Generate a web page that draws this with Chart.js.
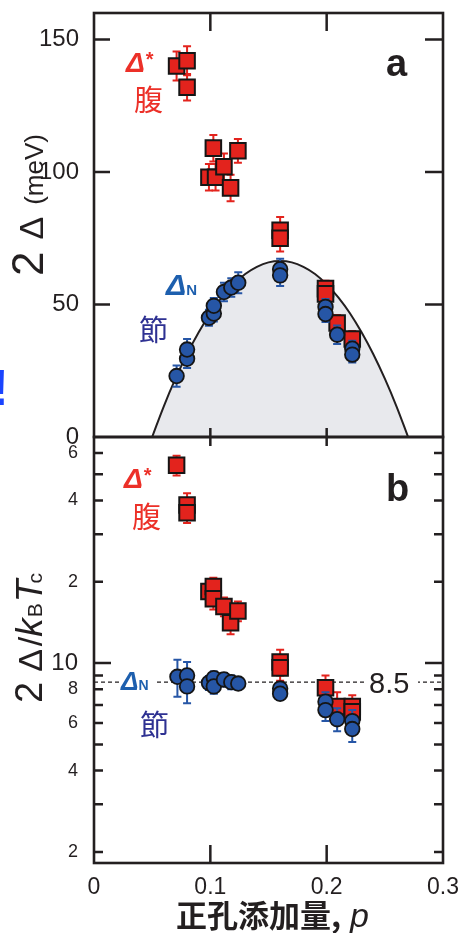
<!DOCTYPE html>
<html>
<head>
<meta charset="utf-8">
<script src="https://cdn.jsdelivr.net/npm/chart.js@4.4.1/dist/chart.umd.min.js"></script>
<style>
  html, body { margin: 0; padding: 0; background: #fff; }
  #wrap { position: relative; width: 464px; height: 933px; overflow: hidden; }
  canvas { position: absolute; left: 0; top: 0; }
</style>
</head>
<body>
<div id="wrap">
  <canvas id="gapChart" width="464" height="933"></canvas>
  <canvas id="ratioChart" width="464" height="933"></canvas>
</div>
<script>
// ---- panel a : gap (meV) vs hole doping p ----
const pAnti = [0.071, 0.080, 0.080, 0.0988, 0.1026, 0.1045, 0.1117, 0.1174, 0.1237, 0.160, 0.160, 0.199, 0.199, 0.209, 0.222];
const gapAnti = [140, 142, 132, 98, 109, 98, 102, 94, 108, 78, 75, 56, 54, 43, 37];
const gapAntiErr = [5.5, 5.5, 5, 5, 5, 5, 5, 5, 4.5, 5, 5, 3, 3, 3, 3];

const pNode = [0.071, 0.080, 0.080, 0.0988, 0.103, 0.103, 0.1117, 0.118, 0.124, 0.160, 0.160, 0.199, 0.199, 0.209, 0.222, 0.222];
const gapNode = [23, 29.5, 33, 45, 46.6, 49.5, 54.7, 56.4, 58.2, 63.3, 61, 49.1, 46.4, 38.6, 33.3, 31.1];
const gapNodeErr = [4, 3.5, 4, 3, 3, 3, 3.5, 3.5, 4, 4, 4, 3, 3, 3.5, 3, 3];

// dome curve
const domeP = [0.05, 0.06, 0.07, 0.08, 0.09, 0.10, 0.11, 0.12, 0.13, 0.14, 0.15, 0.16, 0.17, 0.18, 0.19, 0.20, 0.21, 0.22, 0.23, 0.24, 0.25, 0.26, 0.27];
const domeGap = [0, 11.6, 22.0, 31.3, 39.5, 46.7, 52.7, 57.6, 61.5, 64.2, 65.9, 66.4, 65.9, 64.2, 61.5, 57.6, 52.7, 46.7, 39.5, 31.3, 22.0, 11.6, 0];

// ---- panel b : 2Δ/kBTc ----
const pAntiR = [0.071, 0.080, 0.080, 0.0988, 0.1026, 0.1026, 0.1117, 0.1174, 0.1237, 0.160, 0.160, 0.199, 0.209, 0.222, 0.222];
const ratioAnti = [54, 38.5, 36, 18.4, 19.2, 17.3, 16.2, 14.1, 15.6, 10.1, 9.6, 8.1, 6.9, 6.9, 6.6];
const ratioAntiErr = [4.5, 4, 3, 1.5, 1.5, 1.5, 1.3, 1.3, 1.3, 1.1, 1, 0.9, 0.9, 0.7, 0.7];

const pNodeR = [0.0717, 0.080, 0.080, 0.0988, 0.103, 0.103, 0.1117, 0.118, 0.124, 0.160, 0.160, 0.199, 0.199, 0.209, 0.222, 0.222];
const ratioNode = [8.9, 9.0, 8.2, 8.45, 8.8, 8.2, 8.7, 8.5, 8.4, 8.05, 7.7, 7.2, 6.7, 6.2, 6.1, 5.7];
const ratioNodeErr = [1.4, 1.1, 1.1, 0.5, 0.5, 0.5, 0.5, 0.5, 0.4, 0.4, 0.4, 0.6, 0.6, 0.6, 0.6, 0.6];
const ratioRef = 8.5;

// ticks
const pTicks = [0, 0.1, 0.2, 0.3];
const gapTicks = [0, 50, 100, 150];
const ratioTicks = [2, 3, 4, 5, 6, 7, 8, 9, 10, 20, 30, 40, 50, 60];
const ratioLabels = { 2: '2', 4: '4', 6: '6', 8: '8', 10: '10', 20: '2', 40: '4', 60: '6' };

const SANS = '"Liberation Sans", Arial, Helvetica, sans-serif';
const CJK = '"Noto Sans CJK JP", "Noto Sans CJK SC", sans-serif';
const INK = '#231f20';
const RED = '#e3231d';
const RED_TXT = '#ec3028';
const BLUE = '#2656a6';
const BLUE_TXT = '#1d5fae';
const NAVY = '#2e3192';

const pts = (xs, ys) => xs.map((x, i) => ({ x: x, y: ys[i] }));

// error bars drawn under each dataset through its y scale
const errorBars = {
  id: 'errorBars',
  beforeDatasetDraw(chart, args) {
    const ds = chart.data.datasets[args.index];
    if (!ds.errors) return;
    const ctx = chart.ctx, ys = chart.scales.y;
    ctx.save();
    ctx.strokeStyle = ds.errorColor;
    ctx.lineWidth = 2;
    args.meta.data.forEach((pt, i) => {
      const v = ds.data[i].y, e = ds.errors[i];
      const y1 = ys.getPixelForValue(v + e), y2 = ys.getPixelForValue(v - e);
      ctx.beginPath();
      ctx.moveTo(pt.x, y1); ctx.lineTo(pt.x, y2);
      ctx.moveTo(pt.x - 4, y1); ctx.lineTo(pt.x + 4, y1);
      ctx.moveTo(pt.x - 4, y2); ctx.lineTo(pt.x + 4, y2);
      ctx.stroke();
    });
    ctx.restore();
  }
};

// box + inward tick marks
function framePlugin(spec) {
  return {
    id: 'frame',
    afterDraw(chart) {
      const ctx = chart.ctx, a = chart.chartArea;
      const xs = chart.scales.x, ys = chart.scales.y;
      ctx.save();
      ctx.strokeStyle = INK;
      ctx.lineWidth = 2.5;
      ctx.beginPath();
      spec.yTicks.forEach(v => {
        const y = ys.getPixelForValue(v), len = spec.yLen(v);
        if (spec.left) { ctx.moveTo(a.left, y); ctx.lineTo(a.left + len, y); }
        if (spec.right(v)) { ctx.moveTo(a.right, y); ctx.lineTo(a.right - spec.rightLen(v), y); }
      });
      spec.xTicks.forEach(v => {
        const x = xs.getPixelForValue(v);
        ctx.moveTo(x, a.top); ctx.lineTo(x, a.top + spec.topLen);
        ctx.moveTo(x, a.bottom); ctx.lineTo(x, a.bottom - spec.bottomLen);
      });
      ctx.stroke();
      ctx.lineWidth = 2.6;
      ctx.strokeRect(a.left, a.top, a.right - a.left, a.bottom - a.top);
      ctx.restore();
      if (spec.text) spec.text(chart, ctx, a);
    }
  };
}

function runs(ctx, x, y, parts) {
  let cx = x;
  parts.forEach(p => {
    ctx.font = p.font;
    ctx.fillStyle = p.color || INK;
    cx += p.dx || 0;
    ctx.fillText(p.text, cx, y + (p.dy || 0));
    cx += ctx.measureText(p.text).width + (p.gap || 0);
  });
}

function fixWidth(w) {
  return s => { s.width = w; s.paddingTop = 0; s.paddingBottom = 0; };
}

// ---------------- panel a ----------------
new Chart(document.getElementById('gapChart'), {
  type: 'scatter',
  data: {
    datasets: [
      {
        type: 'line', data: pts(domeP, domeGap), borderColor: INK, borderWidth: 2,
        backgroundColor: '#e8e9ed', fill: 'origin', pointRadius: 0, tension: 0.4, order: 3
      },
      {
        data: pts(pAnti, gapAnti), errors: gapAntiErr, errorColor: RED,
        pointStyle: 'rect', pointRadius: 11, backgroundColor: RED, borderColor: '#151515', borderWidth: 2, order: 2
      },
      {
        data: pts(pNode, gapNode), errors: gapNodeErr, errorColor: BLUE,
        pointStyle: 'circle', pointRadius: 7.3, backgroundColor: BLUE, borderColor: '#151515', borderWidth: 1.8, order: 1
      }
    ]
  },
  options: {
    responsive: false,
    animation: false,
    layout: { padding: { top: 11, right: 21, bottom: 496, left: 0 } },
    plugins: { legend: { display: false }, tooltip: { enabled: false } },
    scales: {
      x: { type: 'linear', min: 0, max: 0.3, display: false },
      y: {
        min: 0, max: 160,
        afterBuildTicks: s => { s.ticks = gapTicks.map(v => ({ value: v })); },
        afterFit: fixWidth(94),
        grid: { display: false }, border: { display: false },
        ticks: { padding: 7, color: INK, font: { family: SANS, size: 24 } }
      }
    }
  },
  plugins: [errorBars, framePlugin({
    yTicks: [50, 100, 150], left: true, yLen: () => 16,
    right: () => true, rightLen: () => 18,
    xTicks: [0.1, 0.2], topLen: 18, bottomLen: 9,
    text(chart, ctx, a) {
      ctx.save();
      ctx.textBaseline = 'alphabetic';
      // y title
      ctx.save();
      ctx.translate(43, 276);
      ctx.rotate(-Math.PI / 2);
      runs(ctx, 0, 0, [
        { text: '2', font: '44px ' + SANS, gap: 12 },
        { text: 'Δ', font: '34px ' + SANS, gap: 12 },
        { text: '(meV)', font: '26px ' + SANS }
      ]);
      ctx.restore();
      runs(ctx, 126, 72, [
        { text: 'Δ', font: 'italic bold 28px ' + SANS, color: RED_TXT, gap: 1 },
        { text: '*', font: 'bold 20px ' + SANS, color: RED_TXT, dy: -6 }
      ]);
      runs(ctx, 134, 111, [{ text: '腹', font: '29px ' + CJK, color: RED_TXT }]);
      runs(ctx, 166, 295, [
        { text: 'Δ', font: 'italic bold 30px ' + SANS, color: BLUE_TXT, gap: 0 },
        { text: 'N', font: 'bold 15px ' + SANS, color: BLUE_TXT }
      ]);
      runs(ctx, 139, 341, [{ text: '節', font: '29px ' + CJK, color: NAVY }]);
      runs(ctx, 386, 76, [{ text: 'a', font: 'bold 38px ' + SANS }]);
      runs(ctx, -8, 405, [{ text: '!', font: 'bold 50px ' + SANS, color: '#1a44ff' }]);
      ctx.restore();
    }
  })]
});

// ---------------- panel b ----------------
new Chart(document.getElementById('ratioChart'), {
  type: 'scatter',
  data: {
    datasets: [
      {
        type: 'line', data: [{ x: 0, y: ratioRef }, { x: 0.3, y: ratioRef }], borderColor: INK, borderWidth: 1.4,
        borderDash: [4, 3], pointRadius: 0, fill: false, order: 3
      },
      {
        data: pts(pAntiR, ratioAnti), errors: ratioAntiErr, errorColor: RED,
        pointStyle: 'rect', pointRadius: 11, backgroundColor: RED, borderColor: '#151515', borderWidth: 2, order: 2
      },
      {
        data: pts(pNodeR, ratioNode), errors: ratioNodeErr, errorColor: BLUE,
        pointStyle: 'circle', pointRadius: 7.3, backgroundColor: BLUE, borderColor: '#151515', borderWidth: 1.8, order: 1
      }
    ]
  },
  options: {
    responsive: false,
    animation: false,
    layout: { padding: { top: 437, right: 21, bottom: 0, left: 0 } },
    plugins: { legend: { display: false }, tooltip: { enabled: false } },
    scales: {
      x: {
        type: 'linear', min: 0, max: 0.3,
        afterBuildTicks: s => { s.ticks = pTicks.map(v => ({ value: v })); },
        afterFit: s => { s.height = 70; s.paddingLeft = 0; s.paddingRight = 0; },
        grid: { display: false }, border: { display: false },
        ticks: {
          padding: 3, color: INK, font: { family: SANS, size: 23 },
          callback: v => (v === 0 ? '0' : v.toFixed(1))
        }
      },
      y: {
        type: 'logarithmic', min: 1.82, max: 68.7,
        afterBuildTicks: s => { s.ticks = ratioTicks.map(v => ({ value: v })); },
        afterFit: fixWidth(94),
        grid: { display: false }, border: { display: false },
        ticks: {
          padding: 8, color: INK, autoSkip: false,
          font: ctx => ({ family: SANS, size: ctx.tick && ctx.tick.value === 10 ? 24 : 18 }),
          callback: v => ratioLabels[v] || ''
        }
      }
    }
  },
  plugins: [errorBars, framePlugin({
    yTicks: ratioTicks, left: true, yLen: v => (v === 10 ? 17 : 9),
    right: () => true, rightLen: v => (v === 10 ? 18 : 9),
    xTicks: [0.1, 0.2], topLen: 9, bottomLen: 18,
    text(chart, ctx, a) {
      const ys = chart.scales.y;
      ctx.save();
      ctx.textBaseline = 'alphabetic';
      // reference line label
      const yRef = ys.getPixelForValue(ratioRef);
      ctx.fillStyle = '#fff';
      ctx.fillRect(364, yRef - 6, 54, 12);
      runs(ctx, 369, yRef + 11, [{ text: '8.5', font: '29px ' + SANS }]);
      // y title
      ctx.save();
      ctx.translate(42, 703);
      ctx.rotate(-Math.PI / 2);
      runs(ctx, 0, 0, [
        { text: '2', font: '38px ' + SANS, gap: 10 },
        { text: 'Δ', font: '34px ' + SANS, gap: 3 },
        { text: '/', font: '34px ' + SANS, gap: 0 },
        { text: 'k', font: 'italic 37px ' + SANS, gap: 1 },
        { text: 'B', font: '21px ' + SANS, gap: 1 },
        { text: 'T', font: 'italic 37px ' + SANS, gap: -4 },
        { text: 'c', font: '21px ' + SANS }
      ]);
      ctx.restore();
      runs(ctx, 124, 488, [
        { text: 'Δ', font: 'italic bold 28px ' + SANS, color: RED_TXT, gap: 1 },
        { text: '*', font: 'bold 20px ' + SANS, color: RED_TXT, dy: -6 }
      ]);
      runs(ctx, 132, 528, [{ text: '腹', font: '29px ' + CJK, color: RED_TXT }]);
      ctx.fillStyle = '#fff';
      ctx.fillRect(119, 669, 38, 24);
      runs(ctx, 121, 690, [
        { text: 'Δ', font: 'italic bold 26px ' + SANS, color: BLUE_TXT, gap: 0 },
        { text: 'N', font: 'bold 14px ' + SANS, color: BLUE_TXT }
      ]);
      runs(ctx, 140, 736, [{ text: '節', font: '29px ' + CJK, color: NAVY }]);
      runs(ctx, 386, 501, [{ text: 'b', font: 'bold 38px ' + SANS }]);
      // x title
      runs(ctx, 176, 927, [
        { text: '正孔添加量, ', font: 'bold 31px ' + CJK, gap: 2 },
        { text: 'p', font: 'italic 34px ' + SANS }
      ]);
      ctx.restore();
    }
  })]
});
</script>
</body>
</html>
